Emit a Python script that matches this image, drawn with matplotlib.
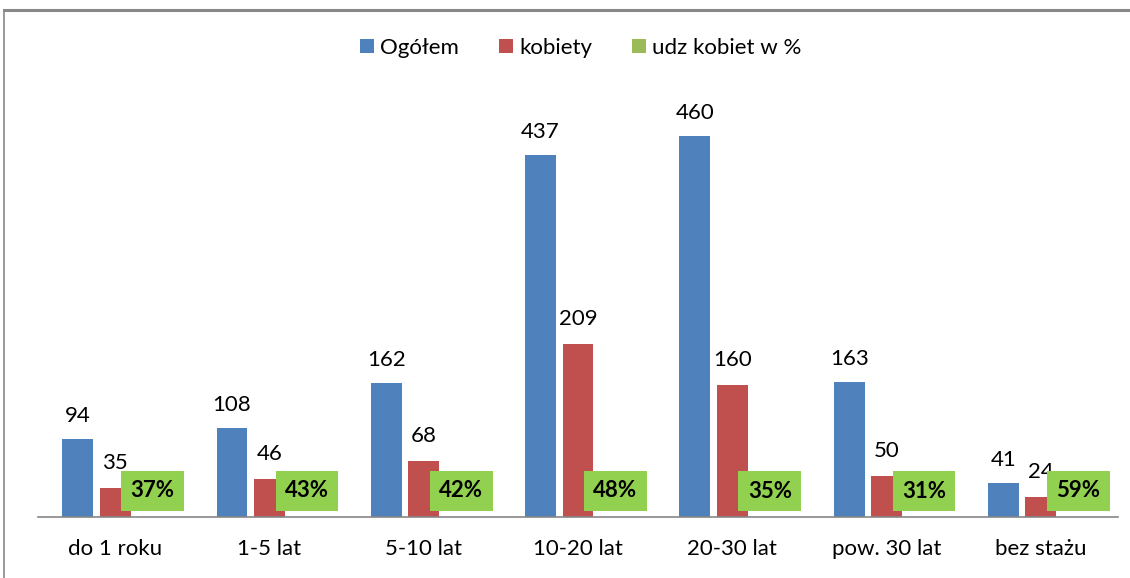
import numpy as np
import matplotlib
matplotlib.use("Agg")
from matplotlib import pyplot as plt
from matplotlib.lines import Line2D

# dane
categories = ["do 1 roku", "1-5 lat", "5-10 lat", "10-20 lat", "20-30 lat", "pow. 30 lat", "bez stażu"]
ogolem = [94, 108, 162, 437, 460, 163, 41]
kobiety = [35, 46, 68, 209, 160, 50, 24]
udzial = [0.37, 0.43, 0.42, 0.48, 0.35, 0.31, 0.59]
series_names = ["Ogółem", "kobiety", "udz kobiet w %"]

plt.rcParams['font.family'] = ['Lato', 'DejaVu Sans']

fig = plt.figure(figsize=(11.3, 5.78), dpi=100)
ax = fig.add_axes([38 / 1130, 1 - 517 / 578, 1080 / 1130, 414 / 578])

x = np.arange(len(categories))
w = 0.2
off = 0.243
blue, red, green = '#4F81BD', '#C0504D', '#9BBB59'

b1 = ax.bar(x - off, ogolem, w, color=blue, label=series_names[0])
b2 = ax.bar(x, kobiety, w, color=red, label=series_names[1])
b3 = ax.bar(x + off, udzial, w, color=green, label=series_names[2])

fs = 16
for xi, v in zip(x - off, ogolem):
    ax.annotate(str(v), (xi, v), xytext=(0, 16.5), textcoords='offset points',
                ha='center', va='center', fontsize=fs)
for xi, v in zip(x, kobiety):
    ax.annotate(str(v), (xi, v), xytext=(0, 18), textcoords='offset points',
                ha='center', va='center', fontsize=fs)
for xi, v in zip(x + off, udzial):
    ax.annotate(f"{round(v * 100)}%", (xi, v), xytext=(0, 18.5), textcoords='offset points',
                ha='center', va='center', fontsize=fs, fontweight='bold',
                bbox=dict(boxstyle='square,pad=0.42', fc='#92D050', ec='none'))

ax.set_xlim(-0.5, len(categories) - 0.5)
ax.set_ylim(0, 500)
ax.set_xticks(x)
ax.set_xticklabels(categories, fontsize=fs)
ax.tick_params(axis='x', length=0, pad=16)
ax.set_yticks([])
for s in ['top', 'left', 'right']:
    ax.spines[s].set_visible(False)
ax.spines['bottom'].set_color('#868686')
ax.spines['bottom'].set_linewidth(1.2)

fig.legend(handles=[b1, b2, b3], loc='center', bbox_to_anchor=(581 / 1130, 1 - 48 / 578),
           ncol=3, frameon=False, fontsize=fs, handlelength=0.6, handleheight=0.6,
           handletextpad=0.3, columnspacing=1.8)

# ramka wykresu
fig.add_artist(Line2D([4 / 1130, 1.0], [1 - 10 / 578] * 2, transform=fig.transFigure,
                      color='#898989', linewidth=2.2))
fig.add_artist(Line2D([4 / 1130] * 2, [0, 1 - 10 / 578], transform=fig.transFigure,
                      color='#898989', linewidth=1.2))

fig.savefig('out.png', dpi=100)
